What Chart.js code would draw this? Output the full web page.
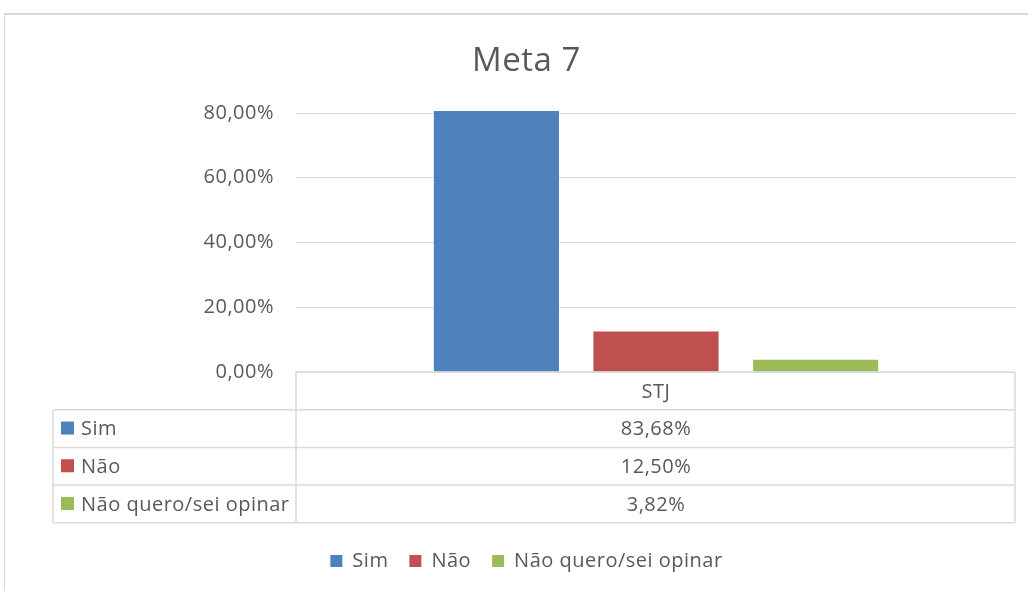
<!DOCTYPE html>
<html>
<head>
<meta charset="utf-8">
<script src="https://cdn.jsdelivr.net/npm/chart.js@4"></script>
<style>
html, body { margin: 0; padding: 0; background: #fff; }
#wrap { position: relative; width: 1028px; height: 591px; overflow: hidden; }
#frame { position: absolute; left: 4px; top: 13px; width: 1100px; height: 700px;
         border-left: 1px solid #d9d9d9; border-top: 2px solid #d9d9d9; }
canvas { position: absolute; left: 0; top: 0; }
</style>
</head>
<body>
<div id="wrap">
  <div id="frame"></div>
  <canvas id="myChart" width="1028" height="591"></canvas>
</div>
<script>
// Meta 7 - data

const categories = ['STJ'];
const seriesNames = ['Sim', 'Não', 'Não quero/sei opinar'];
const simValues = [83.68];
const naoValues = [12.50];
const opinarValues = [3.82];
const yTicks = [0, 20, 40, 60, 80];
const seriesColors = ['#4f81bd', '#c0504d', '#9bbb59'];

const textColor = '#595959';
const lineColor = '#d9d9d9';
const fontFamily = '"Open Sans", "Noto Sans", sans-serif';
const textSpacing = '0.5px';

const fmtPct = (v) => v.toFixed(2).replace('.', ',') + '%';

// text in the picture is slightly spread out, apply to the whole canvas
const spacing = {
    id: 'spacing',
    beforeLayout(chart) { chart.ctx.letterSpacing = textSpacing; },
    beforeDraw(chart) { chart.ctx.letterSpacing = textSpacing; }
};

// data table under the plot
const dataTable = {
    id: 'dataTable',
    afterDraw(chart) {
        const ctx = chart.ctx;
        const x = chart.scales.x;
        const top = chart.chartArea.bottom;
        const left = 53;
        const right = x.right - 1;
        const rowH = 37.7;
        const rows = chart.data.datasets.length;
        const bottom = top + rowH * (rows + 1);

        ctx.save();
        ctx.strokeStyle = lineColor;
        ctx.lineWidth = 1.5;
        ctx.beginPath();
        ctx.moveTo(x.left, top); ctx.lineTo(right, top);
        for (let i = 1; i <= rows + 1; i++) {
            ctx.moveTo(left, top + rowH * i); ctx.lineTo(right, top + rowH * i);
        }
        ctx.moveTo(x.left, top); ctx.lineTo(x.left, bottom);
        ctx.moveTo(right, top); ctx.lineTo(right, bottom);
        ctx.moveTo(left, top + rowH); ctx.lineTo(left, bottom);
        ctx.stroke();

        ctx.letterSpacing = textSpacing;
        ctx.fillStyle = textColor;
        ctx.font = '20px ' + fontFamily;
        ctx.textBaseline = 'middle';
        ctx.textAlign = 'center';
        categories.forEach((c, ci) => {
            const cx = x.getPixelForValue(ci);
            ctx.fillText(c, cx, top + rowH / 2 + 1);
            chart.data.datasets.forEach((ds, i) => {
                ctx.fillText(fmtPct(ds.data[ci]), cx, top + rowH * (i + 1.5) + 1);
            });
        });

        ctx.textAlign = 'left';
        chart.data.datasets.forEach((ds, i) => {
            const cy = top + rowH * (i + 1.5);
            ctx.fillStyle = ds.backgroundColor;
            ctx.fillRect(61, cy - 7, 13, 13);
            ctx.fillStyle = textColor;
            ctx.fillText(ds.label, 81, cy + 1);
        });
        ctx.restore();
    }
};

const ctx = document.getElementById('myChart').getContext('2d');
const myChart = new Chart(ctx, {
    type: 'bar',
    data: {
        labels: categories,
        datasets: [
            { label: seriesNames[0], data: simValues, backgroundColor: seriesColors[0] },
            { label: seriesNames[1], data: naoValues, backgroundColor: seriesColors[1] },
            { label: seriesNames[2], data: opinarValues, backgroundColor: seriesColors[2] }
        ]
    },
    options: {
        responsive: false,
        animation: false,
        categoryPercentage: 0.665,
        barPercentage: 0.784,
        clip: { left: 0, top: 2, right: 0, bottom: 0 },
        layout: { padding: { top: 0, left: 37, right: 12, bottom: 10 } },
        scales: {
            x: {
                ticks: { display: false },
                grid: { display: false },
                border: { display: false },
                afterFit: (s) => { s.height = 158; }
            },
            y: {
                min: 0,
                max: 80,
                afterBuildTicks: (s) => { s.ticks = yTicks.map(v => ({ value: v })); },
                afterFit: (s) => { s.width = 259; },
                ticks: {
                    padding: 22,
                    color: textColor,
                    font: { family: fontFamily, size: 20 },
                    callback: (v) => fmtPct(v)
                },
                grid: { color: lineColor, lineWidth: 1, drawTicks: false },
                border: { display: false }
            }
        },
        plugins: {
            title: {
                display: true,
                text: 'Meta 7',
                color: textColor,
                font: { family: fontFamily, size: 33, weight: 'normal', lineHeight: 1.2 },
                padding: { top: 42, bottom: 31.4 }
            },
            legend: {
                position: 'bottom',
                labels: {
                    boxWidth: 12,
                    boxHeight: 12,
                    padding: 21,
                    color: textColor,
                    font: { family: fontFamily, size: 20 }
                }
            },
            tooltip: { enabled: false }
        }
    },
    plugins: [spacing, dataTable]
});
</script>
</body>
</html>
